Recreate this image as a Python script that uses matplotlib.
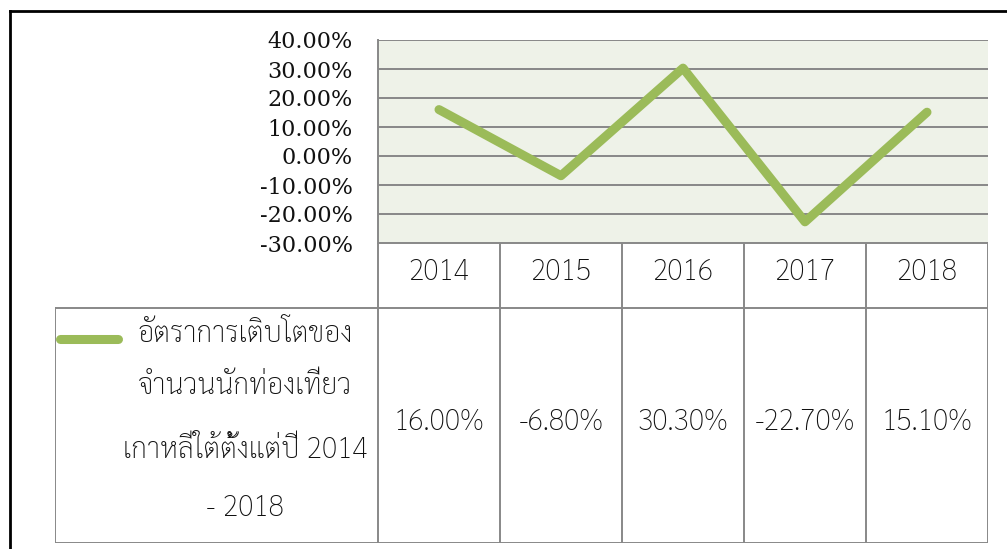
import matplotlib
matplotlib.use("Agg")
import matplotlib.pyplot as plt
from matplotlib.lines import Line2D
from matplotlib.ticker import FuncFormatter

years = ["2014", "2015", "2016", "2017", "2018"]
growth = [16.0, -6.8, 30.3, -22.7, 15.1]
value_labels = ["16.00%", "-6.80%", "30.30%", "-22.70%", "15.10%"]
legend_lines = ["อัตราการเติบโตของ", "จำนวนนักท่องเที่ยว", "เกาหลีใต้ตั้งแต่ปี 2014", "- 2018"]
y_ticks = [-30, -20, -10, 0, 10, 20, 30, 40]

thai = ["Sarabun", "DejaVu Sans"]
green = "#9BBB59"
grid_col = "#888888"

W, H = 1007, 549
fig = plt.figure(figsize=(W / 100, H / 100), dpi=100)

# plot area
ax = fig.add_axes([378 / W, 1 - 243 / H, 610 / W, 203 / H])
ax.set_facecolor("#EEF2E8")
x = list(range(len(years)))
ax.plot(x, growth, color=green, lw=6.5, solid_capstyle="round", solid_joinstyle="round", zorder=3)
ax.set_xlim(-0.5, len(years) - 0.5)
ax.set_ylim(-30, 40)
ax.set_yticks(y_ticks)
ax.yaxis.set_major_formatter(FuncFormatter(lambda v, p: "%.2f%%" % v))
ax.set_xticks([])
ax.tick_params(axis="y", length=0, pad=18, labelsize=16, labelcolor="#111111")
for lab in ax.get_yticklabels():
    lab.set_family("DejaVu Serif")
ax.grid(axis="y", color=grid_col, lw=1.4)
ax.set_axisbelow(True)
for s in ["top", "right", "bottom"]:
    ax.spines[s].set_visible(False)
ax.spines["left"].set_color(grid_col)
ax.spines["left"].set_linewidth(1.4)

# data table below the plot
tab = fig.add_axes([55 / W, 1 - 543 / H, 933 / W, 300 / H])
tab.axis("off")
x0 = -0.5 - 323 / 122
tab.set_xlim(x0, len(years) - 0.5)
tab.set_ylim(0, 300)
lk = dict(color=grid_col, lw=1.4, solid_capstyle="projecting")
tab.plot([-0.5, len(years) - 0.5], [300, 300], **lk)
tab.plot([x0, len(years) - 0.5], [235, 235], **lk)
tab.plot([x0, len(years) - 0.5], [0, 0], **lk)
tab.plot([x0, x0], [0, 235], **lk)
for k in range(len(years) + 1):
    tab.plot([k - 0.5, k - 0.5], [0, 300], **lk)

tk = dict(ha="center", va="center", fontsize=20.5, family=thai, weight="light", color="#111111")
for i, (yr, val) in enumerate(zip(years, value_labels)):
    tab.text(i, 270, yr, **tk)
    tab.text(i, 120, val, **tk)

# legend key and label
tab.plot([x0 + 5 / 122, x0 + 63 / 122], [204, 204], color=green, lw=6.5, solid_capstyle="round")
cx = x0 + 190 / 122
for txt, yy in zip(legend_lines, [208, 156, 93, 35]):
    tab.text(cx, yy, txt, **tk)

# outer frame (top and left edges)
fig.add_artist(Line2D([10 / W, 1], [1 - 11 / H, 1 - 11 / H], color="black", lw=2, transform=fig.transFigure))
fig.add_artist(Line2D([10 / W, 10 / W], [0, 1 - 11 / H], color="black", lw=2, transform=fig.transFigure))

fig.savefig("out.png", dpi=100)
